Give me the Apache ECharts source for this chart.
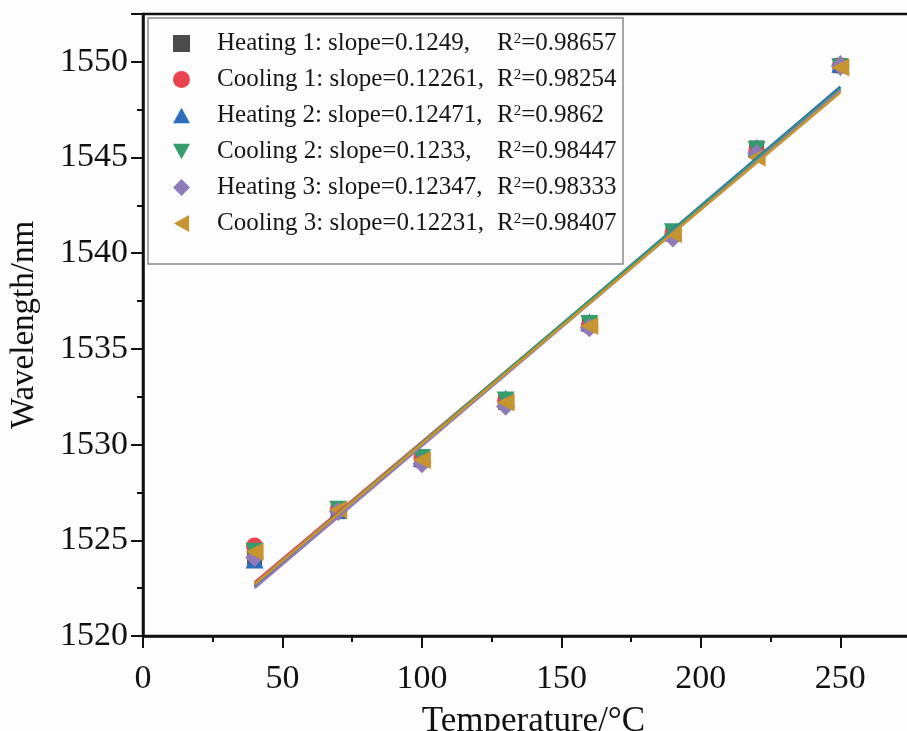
<!DOCTYPE html>
<html>
<head>
<meta charset="utf-8">
<script src="https://cdn.jsdelivr.net/npm/echarts@6/dist/echarts.min.js"></script>
<style>
  html, body { margin: 0; padding: 0; background: #fdfdfd; }
  #chart { width: 907px; height: 731px; }
</style>
</head>
<body>
<div id="chart"></div>
<script>
// temperatures (°C)
var temps = [40, 70, 100, 130, 160, 190, 220, 250];

var heating1 = [1524.1, 1526.5, 1529.2, 1532.2, 1536.3, 1541.0, 1545.5, 1549.8];
var cooling1 = [1524.7, 1526.6, 1529.3, 1532.3, 1536.2, 1541.0, 1545.3, 1549.8];
var heating2 = [1524.0, 1526.6, 1529.3, 1532.4, 1536.4, 1541.1, 1545.5, 1549.9];
var cooling2 = [1524.4, 1526.6, 1529.3, 1532.3, 1536.3, 1541.1, 1545.4, 1549.7];
var heating3 = [1524.1, 1526.5, 1529.0, 1532.0, 1536.1, 1540.8, 1545.2, 1549.8];
var cooling3 = [1524.4, 1526.6, 1529.2, 1532.2, 1536.2, 1541.0, 1545.0, 1549.7];

// linear fit lines, end points at 40 and 250 °C
var fitX = [40, 250];
var fitHeating1 = [1522.6, 1548.6];
var fitCooling1 = [1522.8, 1548.5];
var fitHeating2 = [1522.6, 1548.7];
var fitCooling2 = [1522.7, 1548.6];
var fitHeating3 = [1522.5, 1548.5];
var fitCooling3 = [1522.7, 1548.4];

var names = ['Heating 1', 'Cooling 1', 'Heating 2', 'Cooling 2', 'Heating 3', 'Cooling 3'];
var slopes = ['0.1249', '0.12261', '0.12471', '0.1233', '0.12347', '0.12231'];
var r2 = ['0.98657', '0.98254', '0.9862', '0.98447', '0.98333', '0.98407'];

var xTicks = [0, 50, 100, 150, 200, 250];
var yTicks = [1520, 1525, 1530, 1535, 1540, 1545, 1550];

var colors = ['#4b4b4b', '#e8434f', '#2b6cbc', '#369c6c', '#8e7bb8', '#c7952f'];
// square, circle, up / down / left triangles, diamond
var symbols = [
    'rect',
    'circle',
    'path://M5,0 L10,9 L0,9 Z',
    'path://M0,0 L10,0 L5,9 Z',
    'diamond',
    'path://M9,0 L9,10 L0,5 Z'
];
var sizes = [15, 17, 18, 18, 19, 18];

var points = [heating1, cooling1, heating2, cooling2, heating3, cooling3];
var fits = [fitHeating1, fitCooling1, fitHeating2, fitCooling2, fitHeating3, fitCooling3];

var serif = '"Liberation Serif", "Times New Roman", serif';

var chart = echarts.init(document.getElementById('chart'));

var series = [];
for (var i = 0; i < names.length; i++) {
    series.push({
        name: names[i],
        type: 'scatter',
        symbol: symbols[i],
        symbolSize: sizes[i],
        itemStyle: { color: colors[i], opacity: 1 },
        z: 2,
        data: temps.map(function (t, k) { return [t, points[i][k]]; })
    });
}
for (var j = 0; j < names.length; j++) {
    series.push({
        name: names[j] + ' fit',
        type: 'line',
        showSymbol: false,
        symbol: 'none',
        lineStyle: { color: colors[j], width: 2.5 },
        z: 3,
        data: fitX.map(function (t, k) { return [t, fits[j][k]]; })
    });
}

var option = {
    backgroundColor: '#fdfdfd',
    animation: false,
    grid: {
        left: 143,
        top: 14,
        right: -17,
        bottom: 95,
        outerBoundsMode: 'none',
        containLabel: false,
        show: true,
        borderColor: '#111',
        borderWidth: 2.5
    },
    graphic: [{
        type: 'rect',
        shape: { x: 148, y: 18, width: 475, height: 246 },
        style: { fill: '#fdfdfd', stroke: '#8a8a8a', lineWidth: 1.5 },
        z: 50
    }],
    legend: {
        orient: 'vertical',
        left: 173,
        top: 31,
        padding: 0,
        itemWidth: 17,
        itemHeight: 17,
        itemGap: 11,
        z: 60,
        data: names,
        formatter: function (name) {
            var k = names.indexOf(name);
            return '{a|' + name + ': slope=' + slopes[k] + ',}{b|R}{s|2}{b|=' + r2[k] + '}';
        },
        textStyle: {
            fontFamily: serif,
            color: '#161616',
            rich: {
                a: { fontFamily: serif, fontSize: 25, color: '#161616', width: 280, padding: [0, 0, 0, 22], lineHeight: 24 },
                b: { fontFamily: serif, fontSize: 25, color: '#161616', lineHeight: 24 },
                s: { fontFamily: serif, fontSize: 15, color: '#161616', verticalAlign: 'top', lineHeight: 24 }
            }
        }
    },
    xAxis: {
        type: 'value',
        min: 0,
        max: 280,
        interval: 50,
        name: 'Temperature/°C',
        nameLocation: 'middle',
        nameGap: 68,
        nameTextStyle: { fontFamily: serif, fontSize: 35, color: '#111' },
        axisLine: { show: true, onZero: false, lineStyle: { color: '#111', width: 2.5 } },
        axisTick: { show: true, inside: false, length: 12, lineStyle: { color: '#111', width: 2 } },
        minorTick: { show: true, splitNumber: 2, length: 6, lineStyle: { color: '#111', width: 2 } },
        splitLine: { show: false },
        axisLabel: {
            fontFamily: serif,
            fontSize: 34,
            color: '#111',
            margin: 26,
            formatter: function (v) { return xTicks.indexOf(v) >= 0 ? String(v) : ''; }
        }
    },
    yAxis: {
        type: 'value',
        min: 1520,
        max: 1552.5,
        interval: 5,
        name: 'Wavelength/nm',
        nameLocation: 'middle',
        nameGap: 102,
        nameRotate: 90,
        nameTextStyle: { fontFamily: serif, fontSize: 33, color: '#111' },
        axisLine: { show: true, onZero: false, lineStyle: { color: '#111', width: 2.5 } },
        axisTick: { show: true, inside: false, length: 12, lineStyle: { color: '#111', width: 2 } },
        minorTick: { show: true, splitNumber: 2, length: 6, lineStyle: { color: '#111', width: 2 } },
        splitLine: { show: false },
        axisLabel: {
            fontFamily: serif,
            fontSize: 34,
            color: '#111',
            margin: 15,
            formatter: function (v) { return yTicks.indexOf(v) >= 0 ? String(v) : ''; }
        }
    },
    series: series
};

chart.setOption(option);
</script>
</body>
</html>
